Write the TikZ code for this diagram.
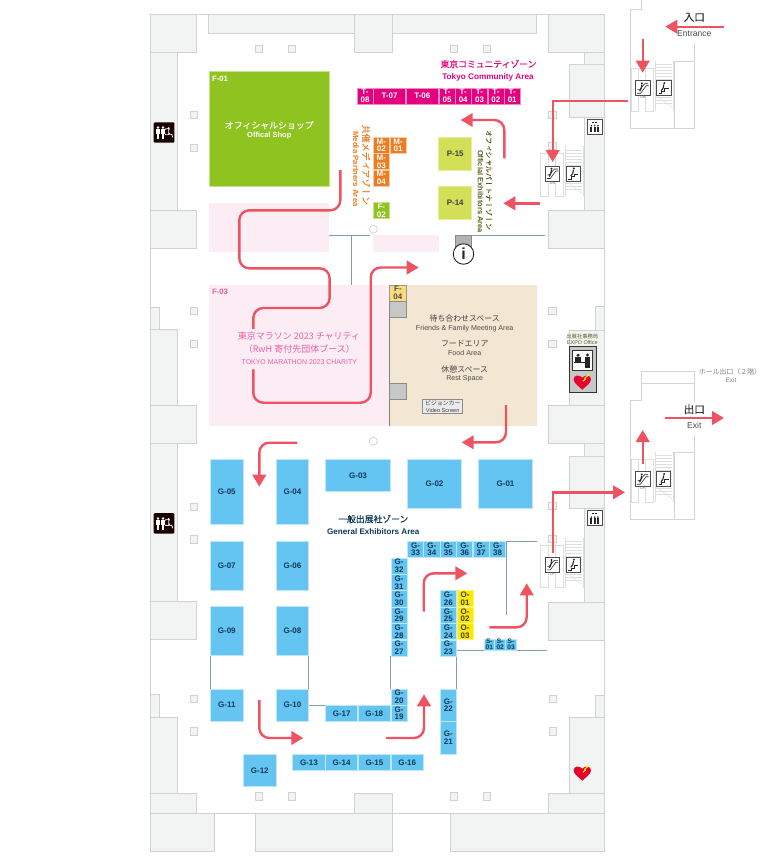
\documentclass[tikz,border=0pt]{standalone}
\usepackage{fontspec}
\usepackage{xcolor}
\setsansfont{Liberation Sans}
\newfontfamily\jp{Noto Sans CJK JP}
\newfontfamily\jpm[FakeBold=0.3]{Noto Sans CJK JP}
\newfontfamily\jpv[RawFeature=+vrt2,FakeBold=0.25]{Noto Sans CJK JP}
\usetikzlibrary{arrows.meta,positioning}
\definecolor{wallfill}{HTML}{F2F4F3}
\definecolor{wallline}{HTML}{CFD2D1}
\definecolor{routered}{HTML}{EF5361}
\definecolor{partline}{HTML}{7F9FB0}
\definecolor{gblue}{HTML}{64C5F2}
\definecolor{gedge}{HTML}{BFE7FA}
\definecolor{gtext}{HTML}{0E3A56}
\definecolor{tpink}{HTML}{E4007F}
\definecolor{morange}{HTML}{EE7D22}
\definecolor{fgreen}{HTML}{8FC31F}
\definecolor{polive}{HTML}{D3DF57}
\definecolor{pinksoft}{HTML}{FCECF3}
\definecolor{pinktext}{HTML}{EE5FA7}
\definecolor{foodbg}{HTML}{F3E6D2}
\definecolor{olivetext}{HTML}{5B5F1E}
\definecolor{fsoft}{HTML}{FDDB7C}
\definecolor{heartred}{HTML}{E6002D}
\newcommand{\fsz}[1]{\fontsize{#1}{#1}\selectfont}
% escalator and stairs, origin at the corner of the escalator sign
\newcommand{\stairset}[3]{
  \begin{scope}[shift={(#1,#2)}]
    \foreach \t in {-16,-13,...,23}{
      \draw[stairline] (20.5,\t) -- (36.5,\t);
    }
    \draw[stairline] (20.5,15) -- (36.5,27);
    \draw[stairline] (19.6,-19.7) -- (19.6,30.3);
    \draw[stairline] (37.8,-19.7) -- (37.8,30.3);
    \draw[stairline] (-4.7,-12.4) -- (17.6,-12.4);
    \draw[stairline] (-4.7,-12.4) rectangle (2.6,30.3);
    \draw[stairline] (10,-12.4) rectangle (17.6,30.3);
    \draw[sign] (0,0) rectangle (14.4,15);
    \draw[signmark] (1.5,12.5) -- (5,12.5) -- (10.5,5) -- (13,5);
    \draw[signmark] (2,9) -- (4,9) -- (9,3) -- (12.5,3);
    \fill[signdark] (6.2,2.7) circle (1.1);
    \draw[signmark, line width=1.1pt] (6.2,4) -- (5.4,8) -- (4,10.5);
    \draw[sign] (20.6,0) rectangle (35.3,15);
    \draw[signmark] (23,13) -- (26,13) -- (26,10.5) -- (29,10.5) -- (29,8) -- (33,8);
    \fill[signdark] (28.6,2.4) circle (1.1);
    \draw[signmark, line width=1.1pt] (28.2,3.8) -- (27.4,7.5) -- (25.5,10);
    \node (lab#1x#2) [font=\sffamily\fsz{3.6}, text=black!60] at (7.2,17) {#3};
  \end{scope}
}
\newcommand{\heartmark}[2]{
  \begin{scope}[shift={(#1,#2)}]
    \fill[heartred] (0,8) .. controls (-4,4) and (-8.7,1.5) .. (-8.7,-2.5) .. controls (-8.7,-6.5) and (-3,-7.5) .. (0,-4) .. controls (3,-7.5) and (8.7,-6.5) .. (8.7,-2.5) .. controls (8.7,1.5) and (4,4) .. (0,8);
    \draw[yellow, line width=1.1pt] (0.5,-0.5) -- (3,-2.5) -- (2.5,-3.5) -- (7,-7.5);
  \end{scope}
}
\newcommand{\toiletmark}[2]{
  \begin{scope}[shift={(#1,#2)}]
    \fill[black!90!red, rounded corners=1pt] (0,0) rectangle (20.6,20.4);
    \foreach \p in {4.3,9.3}{
      \fill[white] (\p,5.2) circle (1.4);
      \fill[white] (\p-1.8,7) rectangle (\p+1.8,12);
      \fill[white] (\p-1.3,12) rectangle (\p+1.3,16.5);
    }
    \fill[white] (15,6) circle (1.2);
    \draw[white, line width=.8pt] (15,7.5) -- (15,12) -- (18,12) -- (19,15);
    \draw[white, line width=.7pt] (16.3,10.5) arc (20:320:3.2);
  \end{scope}
}
\newcommand{\liftmark}[2]{
  \begin{scope}[shift={(#1,#2)}]
    \draw[sign] (0,0) rectangle (14.7,15);
    \foreach \p in {4,7.3,10.6}{
      \fill[signdark] (\p,6.4) circle (.9);
      \fill[signdark] (\p-1,7.6) rectangle (\p+1,12.8);
    }
    \fill[signdark] (5,2.4) rectangle (6.6,3.6);
    \fill[signdark] (8,2.4) rectangle (9.6,3.6);
  \end{scope}
}
\begin{document}
\begin{tikzpicture}[thick, x=1pt, y=-1pt]
  \tikzstyle{every node} = [inner sep = 0pt, outer sep = 0pt];
  \tikzstyle{wall} = [draw=wallline, fill=wallfill, line width=.8pt];
  \tikzstyle{hallline} = [draw=black!17, line width=.8pt];
  \tikzstyle{stairline} = [draw=black!13, line width=.5pt];
  \tikzstyle{sign} = [draw=black!70, fill=white, line width=.8pt];
  \tikzstyle{signdark} = [black!85];
  \tikzstyle{signmark} = [draw=black!85, line width=.6pt];
  \tikzstyle{pillar} = [draw=wallline, fill=wallfill, line width=.7pt, minimum size=7.5pt];
  \tikzstyle{partition} = [draw=partline, line width=.8pt];
  \tikzstyle{routeline} = [draw=routered, line width=2.4pt, rounded corners=10pt];
  \tikzstyle{route} = [routeline, -{Triangle[length=12pt,width=13.5pt]}];
  \tikzstyle{booth} = [line width=.7pt, align=center, font=\sffamily\bfseries\fontsize{8}{7.7}\selectfont];
  \tikzstyle{gbooth} = [booth, fill=gblue, draw=gedge, text=gtext];
  \tikzstyle{tbooth} = [booth, fill=tpink, draw=tpink!45, text=white, minimum height=16pt];
  \tikzstyle{mbooth} = [booth, fill=morange, draw=morange!40, text=white, minimum size=16pt];
  \tikzstyle{pbooth} = [booth, fill=polive, draw=polive!60, text=black!75, minimum size=33pt];
  \tikzstyle{obooth} = [booth, fill=yellow!95!red, draw=yellow!60, text=black!75, minimum size=16pt];
  \useasboundingbox (0,0) rectangle (773,862);

  % hall walls
  \foreach \xa/\ya/\xb/\yb in {150/14.3/196.7/52.3,150/52.3/177.7/210,150/210/196.7/248,
    150/307/159/329.5,150/329.5/177.7/405,150/405/196.7/443.5,150/443.5/177.7/601,
    150/601/196.7/639.5,150/694.7/159/717.3,150/717.3/177.7/793,150/793/196.7/813.3,
    208.3/14.3/354.3/33.3,354.3/14.3/392.3/52.3,392.3/14.3/536.7/33.3,548.7/14.3/604.3/52.3,
    584.3/52.3/604.3/64,569.3/64/604.3/117.3,584.3/117.3/604.3/210,548.7/210/604.3/248.3,
    595.3/306.7/604.3/330,569.3/330/604.3/405,548.7/405/604.3/443.7,584.3/443.7/604.3/456,
    569.3/456/604.3/508.3,584.3/508.3/604.3/602,548.7/602/604.3/640,595.3/695/604.3/717,
    569.3/717/604.3/793,548.7/793/604.3/813.3,354.3/793/392.7/813.3,
    150/813.3/214.7/851,255.7/813.3/392.7/851,450.7/813.3/604.3/851}{
    \draw[wall] (\xa,\ya) rectangle (\xb,\yb);
  }
  \draw[draw=wallline, line width=.8pt] (150,14.3) -- (604.3,14.3) -- (604.3,813.3) -- (150,813.3) -- cycle;

  % entrance and exit halls
  \draw[hallline] (641.7,0) -- (641.7,9) -- (630,9) -- (630,128) -- (694.3,128) -- (694.3,61) -- (674.3,61) -- (674.3,128);
  \draw[hallline] (694.3,43) -- (694.3,61);
  \draw[hallline] (694.7,435) -- (694.7,519.3) -- (630,519.3) -- (630,400.3) -- (641.3,400.3) -- (641.3,371) -- (694.7,371) -- (694.7,402);
  \draw[hallline] (641.3,383.3) -- (694.7,383.3);
  \draw[hallline] (674.7,519.3) -- (674.7,452.7) -- (694.7,452.7);

  % pillars
  \foreach \cx/\cy [count=\i] in {259/49,292/49,454/49,487/49,194/115,194/148,552.3/115,552.3/146,
    194/311,194/343.7,552.3/311,552.3/343.7,194/506.7,194/539.3,552.3/506,552.3/539,
    194/698.7,194/731.3,552.7/698.7,552.7/731.3,259/796.3,292/796.3,454/796.3,487/796.3}{
    \node (pil\i) [pillar] at (\cx,\cy) {};
  }
  \node (round1) [pillar, circle, minimum size=8pt, fill=white] at (373.3,229.3) {};
  \node (round2) [pillar, circle, minimum size=8pt, fill=white] at (373.3,441.3) {};

  % soft areas
  \fill[pinksoft] (209,202.7) rectangle (329.3,251.7);
  \fill[pinksoft] (373.3,235.3) rectangle (439,251.7);
  \fill[pinksoft] (209,284.7) rectangle (389.3,426);
  \fill[foodbg] (389.3,284.7) rectangle (537,426);
  \draw[draw=black!50, line width=.8pt] (389.3,284.7) -- (389.3,426);
  \node (f04) [booth, fill=fsoft, draw=black!40, text=black!70, minimum size=16.3pt] at (397.9,293) {F-\\04};
  \node (gray1) [draw=black!45, fill=black!22, line width=.8pt, minimum size=16.3pt] at (397.9,309.3) {};
  \node (gray2) [draw=black!45, fill=black!22, line width=.8pt, minimum size=16.3pt] at (397.9,391.2) {};

  % partitions
  \draw[partition] (329.3,235.3) -- (370,235.3);
  \draw[partition] (351.3,235.3) -- (351.3,284.7);
  \draw[partition] (471.7,235.3) -- (545,235.3);
  \draw[partition] (505.9,541) -- (536.7,541);
  \draw[partition] (505.9,541) -- (505.9,615);
  \draw[partition] (456.3,650.3) -- (546.7,650.3);
  \foreach \cx in {210.4,308.7,390.7,456.3}{
    \draw[partition] (\cx,656) -- (\cx,688.5);
  }
  \draw[partition] (308.7,705) -- (325.7,705);

  % booths
  \node (f01) [fill=fgreen, draw=fgreen!50, line width=.7pt, minimum width=120pt, minimum height=115pt] at (269.3,128.8) {};
  \foreach \pre/\num/\cx in {T/08/365,T/05/447,T/04/463.2,T/03/479.5,T/02/495.9,T/01/512.2}{
    \node (\pre\num) [tbooth, minimum width=16pt] at (\cx,95.9) {\pre-\\\num};
  }
  \node (T07) [tbooth, minimum width=32.4pt] at (389.5,95.9) {T-07};
  \node (T06) [tbooth, minimum width=32.4pt] at (422.3,95.9) {T-06};
  \foreach \num/\cx/\cy in {02/381.3/145.3,01/398/145.3,03/381.3/161.7,04/381.3/178}{
    \node (M\num) [mbooth] at (\cx,\cy) {M-\\\num};
  }
  \node (F02) [booth, fill=fgreen, draw=fgreen!50, text=white, minimum size=16pt] at (381.3,210.8) {F-\\02};
  \node (P15) [pbooth] at (455.2,153.5) {P-15};
  \node (P14) [pbooth] at (455.2,202.7) {P-14};
  \foreach \num/\cx/\cy/\w/\h in {01/505.5/483.6/54.4/49.2,02/434.5/483.6/54.4/49.2,03/358/475.3/65.4/32.7,
    04/292.5/491.6/32.4/65.4,05/226.8/491.6/32.6/65.4,06/292.5/565.5/32.4/49,07/226.8/565.5/32.6/49,
    08/292.5/631.2/32.4/49,09/226.8/631.2/32.6/49,10/292.5/705.2/32.4/32.3,11/226.8/705.2/32.6/32.3,
    12/259.8/770.5/32.4/32.4,13/308.9/762.3/32.4/16,14/341.6/762.3/32.4/16,15/374.4/762.3/32.4/16,
    16/407.2/762.3/32.4/16,17/341.7/713.3/32.1/16,18/374.3/713.3/32.1/16}{
    \node (G\num) [gbooth, minimum width=\w pt, minimum height=\h pt] at (\cx,\cy) {G-\num};
  }
  \foreach \num/\cx/\cy/\w/\h in {19/399/713.3/16.2/16,20/399/697/16.2/16,21/448.3/737.8/16.2/32.4,22/448.3/705.2/16.2/32.4,
    23/448.3/648/16.2/16.2,24/448.3/631.6/16.2/16.2,25/448.3/615.2/16.2/16.2,26/448.3/598.8/16.2/16.2,
    27/399/648/16.2/16.2,28/399/631.6/16.2/16.2,29/399/615.2/16.2/16.2,30/399/598.8/16.2/16.2,
    31/399/582.4/16.2/16.2,32/399/566/16.2/16.2,33/415.5/549.2/16.2/16.2,34/431.9/549.2/16.2/16.2,
    35/448.3/549.2/16.2/16.2,36/464.7/549.2/16.2/16.2,37/481.1/549.2/16.2/16.2,38/497.5/549.2/16.2/16.2}{
    \node (G\num) [gbooth, minimum width=\w pt, minimum height=\h pt] at (\cx,\cy) {G-\\\num};
  }
  \foreach \num/\cy in {01/598.8,02/615.2,03/631.6}{
    \node (O\num) [obooth] at (465,\cy) {O-\\\num};
  }
  \foreach \num/\cx in {01/489.3,02/500.2,03/511}{
    \node (S\num) [gbooth, minimum width=10.8pt, minimum height=11pt, font=\sffamily\bfseries\fontsize{6.6}{6}\selectfont] at (\cx,644.7) {S-\\\num};
  }

  % information
  \node (infobox) [fill=black!30, draw=black!45, line width=.7pt, minimum width=16.7pt, minimum height=16.4pt] at (463.4,243.5) {};
  \node (info) [circle, draw=black!85, fill=white, line width=.9pt, minimum size=20.5pt, font=\sffamily\bfseries\fsz{16}, text=black!85] at (463.5,254) {i};

  % stairs, signs
  \stairset{635.7}{80.7}{DN}
  \stairset{545.3}{166}{DN}
  \stairset{545.3}{557.3}{UP}
  \stairset{635.5}{471.7}{UP}
  \liftmark{587.3}{119.3}
  \liftmark{587.3}{510.7}
  \toiletmark{153.7}{122.3}
  \toiletmark{153.7}{513.2}
  \heartmark{582.3}{772.7}

  % expo office
  \draw[draw=black!80, fill=black!22, line width=.9pt] (569,346) rectangle (596,392.7);
  \draw[draw=black!80, fill=white, line width=.9pt] (572.7,350) rectangle (592.7,370);
  \fill[black!85] (578,355.2) circle (1.7);
  \fill[black!85] (587.5,355) circle (1.7);
  \fill[black!85] (575.3,357.3) rectangle (580.8,362);
  \fill[black!85] (585.2,357.3) rectangle (589.8,368);
  \draw[draw=black!85, line width=.9pt] (574,362.5) -- (585,362.5);
  \heartmark{582.3}{381.7}

  % routes
  \foreach \nm/\cx/\cy in {ina/724/26.7,inb/665.3/26.7,dna/642.7/39,dnb/642.7/72.7,
    cra/628/101,crb/552.7/101,crc/552.7/162,psa/540/203.3,psb/503.3/203.3,
    pta/504.3/158.3,ptb/504.3/120,ptc/460.7/120,
    loa/340.3/170,lob/340.3/210.3,loc/239.3/210.3,lod/239.3/268.3,loe/329.6/268.3,lof/329.6/308,log/253.3/308,loh/253.3/329,
    loi/253.3/369.3,loj/253.3/402.7,lok/370.7/402.7,lol/370.7/267.5,lom/418.7/267.5,
    fda/506/405,fdb/506/442.3,fdc/461.7/442.3,gaa/297.3/442.7,gab/259.3/442.7,gac/259.3/486.7,
    cna/423.7/611.7,cnb/423.7/573.3,cnc/467.3/573.3,sea/489.3/627.3,seb/526.7/627.3,sec/526.7/583.3,
    swa/259.3/700,swb/259.3/738,swc/303.3/738,sta/386/738,stb/424/738,stc/424/694.3,
    uxa/552.7/552.7,uxb/552.7/492.3,uxc/625/492.3,upa/642.7/464,upb/642.7/430,exa/664.7/418,exb/724/418}{
    \coordinate (\nm) at (\cx,\cy);
  }
  \draw[route] (ina) -- (inb);
  \draw[route] (dna) -- (dnb);
  \draw[route, sharp corners] (cra) -- (crb) -- (crc);
  \draw[route] (psa) -- (psb);
  \draw[route] (pta) -- (ptb) -- (ptc);
  \draw[routeline] (loa) -- (lob) -- (loc) -- (lod) -- (loe) -- (lof) -- (log) -- (loh);
  \draw[route] (loi) -- (loj) -- (lok) -- (lol) -- (lom);
  \draw[route] (fda) -- (fdb) -- (fdc);
  \draw[route] (gaa) -- (gab) -- (gac);
  \draw[route] (cna) -- (cnb) -- (cnc);
  \draw[route] (sea) -- (seb) -- (sec);
  \draw[route] (swa) -- (swb) -- (swc);
  \draw[route] (sta) -- (stb) -- (stc);
  \draw[route, sharp corners] (uxa) -- (uxb) -- (uxc);
  \draw[route] (upa) -- (upb);
  \draw[route] (exa) -- (exb);

  % area titles
  \node (tkyj) [text=tpink, font=\jpm\fsz{8.8}] at (488.5,64) {東京コミュニティゾーン};
  \node (tkye) [text=tpink, font=\sffamily\bfseries\fsz{8.2}] at (488,77) {Tokyo Community Area};
  \node (mdaj) [text=morange, rotate=-90, font=\jpv\fsz{8.9}] at (366,165) {共催メディアゾーン};
  \node (mdae) [text=morange, rotate=-90, font=\sffamily\bfseries\fsz{7.8}] at (356,169) {Media Partners Area};
  \node (offj) [text=olivetext, rotate=-90, font=\jpv\fsz{7.15}] at (489,180) {オフィシャルパートナーゾーン};
  \node (offe) [text=olivetext, rotate=-90, font=\sffamily\bfseries\fsz{7.5}] at (480.5,191.5) {Official Exhibitors Area};
  \node (f01lab) [text=white, anchor=west, font=\sffamily\bfseries\fsz{7.8}] at (212,79) {F-01};
  \node (shpj) [text=white, font=\jpm\fsz{8.9}] at (269.3,125.2) {オフィシャルショップ};
  \node (shpe) [text=white, font=\sffamily\bfseries\fsz{7.5}] at (269.3,135.5) {Offical Shop};
  \node (f03lab) [text=pinktext, anchor=west, font=\sffamily\bfseries\fsz{7.8}] at (212,292.3) {F-03};
  \node (rwha) [text=pinktext, font=\jp\fsz{9}] at (299,335.7) {東京マラソン 2023 チャリティ};
  \node (rwhb) [text=pinktext, font=\jp\fsz{9}] at (299.3,349.3) {（RwH 寄付先団体ブース）};
  \node (rwhc) [text=pinktext, font=\sffamily\fsz{6.95}] at (299.3,362) {TOKYO MARATHON 2023 CHARITY};
  \foreach \nm/\cy/\lab in {meta/318.7/待ち合わせスペース,fooa/343.7/フードエリア,resa/369/休憩スペース}{
    \node (\nm) [text=black!75, font=\jp\fsz{7.9}] at (464.7,\cy) {\lab};
  }
  \foreach \nm/\cy/\lab in {metb/328.3/Friends \& Family Meeting Area,foob/353.3/Food Area,resb/378.7/Rest Space}{
    \node (\nm) [text=black!70, font=\sffamily\fsz{7.1}] at (464.7,\cy) {\lab};
  }
  \node (vidbox) [fill=black!8, draw=black!45, line width=.7pt, minimum width=40pt, minimum height=14pt] at (442.7,406.3) {};
  \node (vidj) [text=black!75, font=\jp\fsz{5.9}] at (442.7,403.5) {ビジョンカー};
  \node (vide) [text=black!75, font=\sffamily\fsz{5.6}] at (442.7,410) {Video Screen};
  \node (offj2) [text=olivetext, font=\jp\fsz{5.3}] at (582.3,336.3) {出展社事務局};
  \node (offe2) [text=olivetext, font=\sffamily\fsz{5.4}] at (582.3,343) {EXPO Office};
  \node (genj) [text=gtext, font=\jpm\fsz{8.8}] at (373.3,519) {一般出展社ゾーン};
  \node (gene) [text=gtext, font=\sffamily\bfseries\fsz{8.1}] at (373.3,532) {General Exhibitors Area};
  \node (entj) [text=black!80, font=\jpm\fsz{10.5}] at (694.3,17.3) {入口};
  \node (ente) [text=black!70, font=\sffamily\fsz{8.6}] at (694.3,33.7) {Entrance};
  \node (extj) [text=black!80, font=\jpm\fsz{10.5}] at (694.3,409.3) {出口};
  \node (exte) [text=black!70, font=\sffamily\fsz{8.6}] at (694.3,425.3) {Exit};
  \node (holj) [text=black!50, font=\jp\fsz{6.9}] at (730,372.3) {ホール出口（２階）};
  \node (hole) [text=black!50, font=\sffamily\fsz{6.4}] at (731,380) {Exit};
\end{tikzpicture}
\end{document}
